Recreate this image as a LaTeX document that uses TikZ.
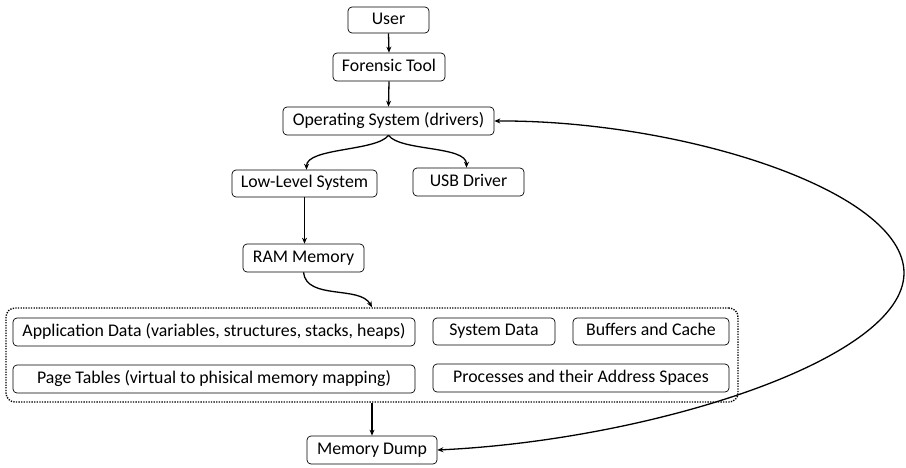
\documentclass[tikz,border=0pt]{standalone}
\usepackage{fontspec}
\setmainfont{Carlito}
\usetikzlibrary{arrows.meta}
\begin{document}
\begin{tikzpicture}[x=1pt,y=-1pt,
  box/.style={draw, line width=0.7pt, rounded corners=4pt, inner sep=0pt,
    font=\fontsize{17.8}{21}\selectfont, text height=12.5pt, text depth=4pt},
  conn/.style={line width=1.3pt, -{Stealth[length=6pt,width=5pt]}},
  grp/.style={draw, line width=1.4pt, dash pattern=on 1.3pt off 1.3pt, rounded corners=9pt, inner sep=0pt}]
\useasboundingbox (0,0) rectangle (906,467);
\node[box, minimum width=81pt, minimum height=26pt] (user) at (388.5,20) {User};
\node[box, minimum width=112pt, minimum height=28pt] (ft) at (389,67) {Forensic Tool};
\node[box, minimum width=211pt, minimum height=28pt] (os) at (388.5,121) {Operating System (drivers)};
\node[box, minimum width=145pt, minimum height=27pt] (lls) at (304.5,183.5) {Low-Level System};
\node[box, minimum width=111pt, minimum height=28pt] (usb) at (468.5,182) {USB Driver};
\node[box, minimum width=121pt, minimum height=28pt] (ram) at (303.5,258) {RAM Memory};
\node[grp, minimum width=732pt, minimum height=94pt] (grp) at (372,355) {};
\node[box, minimum width=402pt, minimum height=28pt] (app) at (214,332) {Application Data (variables, structures, stacks, heaps)};
\node[box, minimum width=122pt, minimum height=27pt] (sys) at (494,331.5) {System Data};
\node[box, minimum width=156pt, minimum height=27pt] (buf) at (651,331.5) {Buffers and Cache};
\node[box, minimum width=402pt, minimum height=28pt] (pt) at (214,379) {Page Tables (virtual to phisical memory mapping)};
\node[box, minimum width=296pt, minimum height=28pt] (proc) at (581,378) {Processes and their Address Spaces};
\node[box, minimum width=130pt, minimum height=28pt] (md) at (372,450) {Memory Dump};
\draw[conn] (user.south) -- (ft.north);
\draw[conn] (ft.south) -- (os.north);
\draw[conn] (os.south) .. controls +(-12,16) and +(0,-22) .. ([xshift=2pt]lls.north);
\draw[conn] (os.south) .. controls +(12,16) and +(0,-22) .. ([xshift=-2pt]usb.north);
\draw[conn] (lls.south) -- (lls.south |- ram.north);
\draw[conn] (ram.south) .. controls +(3,28) and +(-12,-22) .. (grp.north);
\draw[conn] (grp.south) -- (md.north);
\coordinate (rt) at (904,273);
\draw[line width=1.3pt, {Stealth[length=6pt,width=5pt]}-{Stealth[length=6pt,width=5pt]}]
  (md.east) .. controls (650,440) and (904,360) .. (rt)
  .. controls (904,190) and (680,120) .. (os.east);
\end{tikzpicture}
\end{document}
